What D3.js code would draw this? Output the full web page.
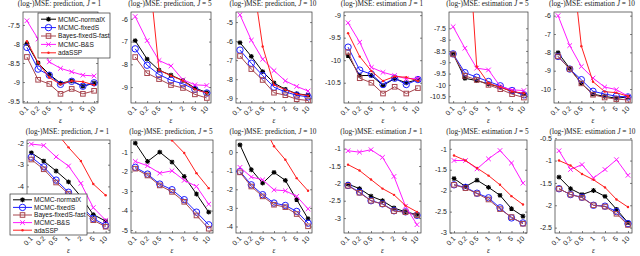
<!DOCTYPE html>
<html>
<head>
<meta charset="utf-8">
<script src="https://cdn.jsdelivr.net/npm/d3@7/dist/d3.min.js"></script>
<style>
body { margin: 0; background: #fff; }
svg { display: block; }
.tick-label { font-family: "Liberation Sans", Arial, sans-serif; font-size: 7px; fill: #222; }
.ptitle { font-family: "Liberation Serif", "Times New Roman", serif; font-size: 7.3px; fill: #222; }
.leg-text { font-family: "Liberation Sans", Arial, sans-serif; font-size: 6.6px; fill: #111; }
</style>
</head>
<body>
<svg id="chart" width="640" height="256"></svg>
<script>
// epsilon values on the x axis (shown as categories)
var epsilons = ["0.1", "0.2", "0.5", "1", "2", "5", "10"];
var methods = ["MCMC-normalX", "MCMC-fixedS", "Bayes-fixedS-fast", "MCMC-B&S", "adaSSP"];

// rows: normalX, fixedS, Bayes-fixedS-fast, B&S, adaSSP
var predJ1 = [
  [-7.99, -8.50, -8.80, -9.03, -8.97, -9.11, -9.03],
  [-8.09, -8.66, -8.82, -9.06, -8.98, -9.11, -9.02],
  [-8.34, -8.94, -9.05, -9.31, -9.18, -9.31, -9.23],
  [-7.39, -7.87, -8.47, -8.64, -8.73, -8.82, -8.84],
  [-7.93, -8.49, -8.88, -9.06, -8.97, -8.99, -9.08]
];
var predJ5 = [
  [-6.96, -7.77, -8.26, -8.48, -8.71, -9.04, -9.24],
  [-7.32, -8.04, -8.45, -8.70, -8.86, -9.10, -9.26],
  [-7.68, -8.39, -8.65, -8.91, -9.04, -9.32, -9.48],
  [-5.90, -6.96, -7.83, -8.07, -8.68, -8.90, -8.93],
  [-1.0, -3.1, -8.26, -8.50, -8.72, -9.10, -9.26]
];
var predJ10 = [
  [-6.08, -6.80, -7.60, -8.20, -8.53, -8.76, -8.84],
  [-6.47, -7.16, -7.81, -8.42, -8.67, -8.84, -8.93],
  [-6.78, -7.47, -8.04, -8.71, -8.84, -9.05, -9.12],
  [-4.62, -5.95, -6.95, -7.55, -8.09, -8.38, -8.62],
  [-1.0, -2.16, -6.28, -8.30, -8.55, -8.78, -8.86]
];
var estJ1 = [
  [-9.90, -10.34, -10.34, -10.56, -10.41, -10.50, -10.43],
  [-9.71, -10.22, -10.31, -10.54, -10.40, -10.54, -10.43],
  [-9.82, -10.40, -10.50, -10.74, -10.59, -10.74, -10.62],
  [-9.17, -9.60, -10.16, -10.27, -10.34, -10.41, -10.40],
  [-9.40, -9.92, -10.24, -10.46, -10.36, -10.38, -10.46]
];
var estJ5 = [
  [-8.63, -9.71, -9.81, -9.96, -10.10, -10.29, -10.41],
  [-8.63, -9.46, -9.66, -9.85, -10.04, -10.25, -10.44],
  [-8.65, -9.60, -9.78, -10.00, -10.19, -10.41, -10.56],
  [-7.43, -8.38, -9.26, -9.34, -10.07, -10.22, -10.25],
  [0.0, -1.17, -9.19, -9.93, -10.10, -10.29, -10.37]
];
var estJ10 = [
  [-8.02, -8.87, -9.69, -10.28, -10.40, -10.50, -10.43],
  [-8.22, -8.91, -9.49, -10.12, -10.27, -10.39, -10.43],
  [-8.22, -8.91, -9.69, -10.31, -10.46, -10.55, -10.59],
  [-6.00, -7.63, -8.77, -9.40, -9.89, -10.03, -10.39],
  [0.0, -1.85, -7.66, -9.60, -10.14, -10.20, -10.39]
];
var predJ1b = [
  [-2.45, -2.83, -3.29, -3.79, -4.47, -5.30, -5.60],
  [-2.65, -3.10, -3.71, -4.27, -4.90, -5.48, -5.80],
  [-2.76, -3.21, -3.82, -4.35, -5.00, -5.56, -5.86],
  [-2.05, -2.11, -2.64, -3.06, -3.86, -4.98, -5.56],
  [0.0, -0.5, -1.5, -2.2, -2.83, -3.89, -4.41]
];
var predJ5b = [
  [-0.54, -1.48, -1.00, -1.51, -2.25, -3.15, -4.08],
  [-1.78, -2.13, -2.64, -2.93, -3.44, -4.08, -4.73],
  [-1.85, -2.20, -2.71, -3.04, -3.55, -4.25, -4.93],
  [-1.48, -1.70, -2.08, -1.96, -2.45, -2.76, -3.67],
  [1.5, 1.0, 0.5, -0.40, -1.05, -2.08, -2.85]
];
var predJ10b = [
  [0.39, -0.95, -1.67, -1.09, -1.52, -2.56, -3.58],
  [-1.04, -1.76, -2.29, -2.74, -2.87, -3.19, -3.82],
  [-1.09, -1.85, -2.38, -2.83, -2.96, -3.33, -3.99],
  [-0.82, -1.34, -1.49, -2.03, -2.08, -2.38, -3.05],
  [2.5, 2.0, 1.5, 0.31, -0.41, -1.40, -2.08]
];
var estJ1b = [
  [-2.02, -2.15, -2.37, -2.50, -2.71, -2.82, -2.90],
  [-2.06, -2.25, -2.50, -2.59, -2.79, -2.82, -2.92],
  [-2.07, -2.27, -2.50, -2.60, -2.80, -2.83, -2.92],
  [-1.06, -1.10, -1.03, -1.25, -1.80, -2.66, -3.19],
  [-1.46, -1.63, -1.89, -2.15, -2.33, -2.64, -2.82]
];
var estJ5b = [
  [-1.71, -1.90, -1.75, -1.92, -2.11, -2.43, -2.61],
  [-1.86, -1.92, -2.06, -2.17, -2.41, -2.65, -2.77],
  [-1.86, -1.94, -2.07, -2.21, -2.44, -2.63, -2.79],
  [-1.28, -1.28, -1.48, -1.24, -1.04, -1.34, -1.82],
  [-1.16, -1.28, -1.46, -1.64, -1.86, -2.13, -2.33]
];
var estJ10b = [
  [-1.37, -1.63, -1.76, -1.67, -1.80, -2.09, -2.39],
  [-1.63, -1.76, -1.82, -2.00, -2.02, -2.14, -2.41],
  [-1.63, -1.76, -1.83, -2.00, -2.03, -2.19, -2.44],
  [-0.78, -1.20, -1.09, -1.39, -1.20, -0.98, -1.33],
  [-1.00, -1.11, -1.30, -1.43, -1.60, -1.87, -2.04]
];

// panel titles, y limits and y ticks (same order as panel data below)
var titleKinds = ["prediction,", "prediction,", "prediction,", "estimation", "estimation", "estimation",
                  "prediction,", "prediction,", "prediction,", "estimation", "estimation", "estimation"];
var titleJ = ["1", "5", "10", "1", "5", "10", "1", "5", "10", "1", "5", "10"];
var yLimits = [
  [-9.55, -7.16], [-9.70, -5.70], [-9.25, -4.47], [-10.95, -8.93], [-10.80, -6.78], [-10.76, -5.80],
  [-6.15, -1.86], [-5.15, -0.38], [-4.35, 0.65], [-3.43, -0.75], [-3.01, -0.79], [-2.62, -0.54]
];
var yTicks = [
  [-9.5, -9, -8.5, -8, -7.5], [-9, -8, -7, -6], [-9, -8, -7, -6, -5],
  [-10.5, -10, -9.5, -9], [-10.5, -10, -9.5, -9, -8.5, -8, -7.5], [-10, -9, -8, -7, -6],
  [-6, -5, -4, -3, -2], [-5, -4, -3, -2, -1], [-4, -3, -2, -1, 0],
  [-3, -2.5, -2, -1.5, -1], [-3, -2.5, -2, -1.5, -1], [-2.5, -2, -1.5, -1, -0.5]
];
var panelData = [predJ1, predJ5, predJ10, estJ1, estJ5, estJ10,
                 predJ1b, predJ5b, predJ10b, estJ1b, estJ5b, estJ10b];

// layout (pixels)
var boxes = [
  [23, 98, 12, 103], [131, 211, 12, 103], [236, 312, 12, 103],
  [344, 422, 12, 103], [449, 528, 12, 103], [554, 632, 12, 103],
  [27, 110, 140, 233], [131, 213, 140, 233], [236, 312, 140, 233],
  [344, 421, 140, 233], [450, 527, 140, 233], [555, 632, 140, 233]
];
var colors = ["#000000", "#1f1fff", "#a8464f", "#ff1aff", "#ff2020"];
var markers = ["star", "circle", "square", "cross", "dot"];

var svg = d3.select("#chart");

function drawMarker(g, type, x, y, color) {
  if (type == "circle") {
    g.append("circle").attr("cx", x).attr("cy", y).attr("r", 3.2)
      .attr("fill", "none").attr("stroke", color).attr("stroke-width", 1);
  } else if (type == "square") {
    g.append("rect").attr("x", x - 2.3).attr("y", y - 2.3).attr("width", 4.6).attr("height", 4.6)
      .attr("fill", "none").attr("stroke", color).attr("stroke-width", 1);
  } else if (type == "cross") {
    g.append("path").attr("d", ["M", x - 2.3, y - 2.3, "L", x + 2.3, y + 2.3, "M", x - 2.3, y + 2.3, "L", x + 2.3, y - 2.3].join(" "))
      .attr("stroke", color).attr("stroke-width", 1);
  } else if (type == "star") {
    g.append("path").attr("d", ["M", x - 2.4, y, "L", x + 2.4, y, "M", x, y - 2.4, "L", x, y + 2.4,
      "M", x - 1.8, y - 1.8, "L", x + 1.8, y + 1.8, "M", x - 1.8, y + 1.8, "L", x + 1.8, y - 1.8].join(" "))
      .attr("stroke", color).attr("stroke-width", 1.1);
  } else {
    g.append("circle").attr("cx", x).attr("cy", y).attr("r", 1.2).attr("fill", color);
  }
}

panelData.forEach(function (data, p) {
  var b = boxes[p];
  var g = svg.append("g");
  var x = d3.scalePoint().domain(epsilons).range([b[0], b[1]]).padding(0.35);
  var y = d3.scaleLinear().domain(yLimits[p]).range([b[3], b[2]]);

  var clipId = "clip" + p;
  svg.append("clipPath").attr("id", clipId).append("rect")
    .attr("x", b[0]).attr("y", b[2]).attr("width", b[1] - b[0]).attr("height", b[3] - b[2]);

  // y axis (ticks inside)
  var yAxis = g.append("g").attr("transform", "translate(" + b[0] + ",0)")
    .call(d3.axisRight(y).tickValues(yTicks[p]).tickSize(2).tickFormat(function (d) { return String(d); }));
  yAxis.select(".domain").remove();
  yAxis.selectAll(".tick line").attr("stroke", "#333").attr("stroke-width", 0.6);
  yAxis.selectAll(".tick text").attr("class", "tick-label").attr("x", -3).attr("text-anchor", "end");

  var yAxisR = g.append("g").attr("transform", "translate(" + b[1] + ",0)")
    .call(d3.axisLeft(y).tickValues(yTicks[p]).tickSize(2).tickFormat(""));
  yAxisR.select(".domain").remove();
  yAxisR.selectAll(".tick line").attr("stroke", "#333").attr("stroke-width", 0.6);

  // x axis
  var xAxis = g.append("g").attr("transform", "translate(0," + b[3] + ")")
    .call(d3.axisTop(x).tickSize(2).tickFormat(""));
  xAxis.select(".domain").remove();
  xAxis.selectAll(".tick line").attr("stroke", "#333").attr("stroke-width", 0.6);
  epsilons.forEach(function (e) {
    g.append("text").attr("class", "tick-label")
      .attr("text-anchor", "end")
      .attr("transform", "translate(" + (x(e) + 2) + "," + (b[3] + 6) + ") rotate(-45)")
      .text(e);
  });
  g.append("text").attr("class", "ptitle")
    .attr("x", (b[0] + b[1]) / 2).attr("y", b[3] + 20)
    .attr("text-anchor", "middle").style("font-style", "italic").text("ε");

  // box
  g.append("rect").attr("x", b[0]).attr("y", b[2]).attr("width", b[1] - b[0]).attr("height", b[3] - b[2])
    .attr("fill", "none").attr("stroke", "#333").attr("stroke-width", 0.7);

  // title
  var t = g.append("text").attr("class", "ptitle")
    .attr("x", (b[0] + b[1]) / 2 - 1).attr("y", b[2] - 6.5).attr("text-anchor", "middle");
  t.append("tspan").text("(log-)MSE: " + titleKinds[p] + " ");
  t.append("tspan").style("font-style", "italic").text("J");
  t.append("tspan").text(" = " + titleJ[p]);

  // series
  var plot = g.append("g").attr("clip-path", "url(#" + clipId + ")");
  var line = d3.line().x(function (d, i) { return x(epsilons[i]); }).y(function (d) { return y(d); });
  data.forEach(function (vals, s) {
    plot.append("path").attr("d", line(vals)).attr("fill", "none")
      .attr("stroke", colors[s]).attr("stroke-width", 1);
    vals.forEach(function (v, i) {
      drawMarker(plot, markers[s], x(epsilons[i]), y(v), colors[s]);
    });
  });
});

// legends
function drawLegend(x0, y0, w, rowH, lineLen) {
  var g = svg.append("g");
  g.append("rect").attr("x", x0).attr("y", y0).attr("width", w).attr("height", rowH * methods.length + 3)
    .attr("fill", "#fff").attr("stroke", "#333").attr("stroke-width", 0.7);
  methods.forEach(function (m, i) {
    var cy = y0 + 2 + rowH * (i + 0.5);
    g.append("line").attr("x1", x0 + 3).attr("x2", x0 + 3 + lineLen).attr("y1", cy).attr("y2", cy)
      .attr("stroke", colors[i]).attr("stroke-width", 1);
    drawMarker(g, markers[i], x0 + 3 + lineLen / 2, cy, colors[i]);
    g.append("text").attr("class", "leg-text").attr("x", x0 + 5 + lineLen).attr("y", cy + 2.3).text(m);
  });
}
drawLegend(38, 13, 72, 8.4, 15);
drawLegend(10, 194, 77, 7.6, 19);
</script>
</body>
</html>
